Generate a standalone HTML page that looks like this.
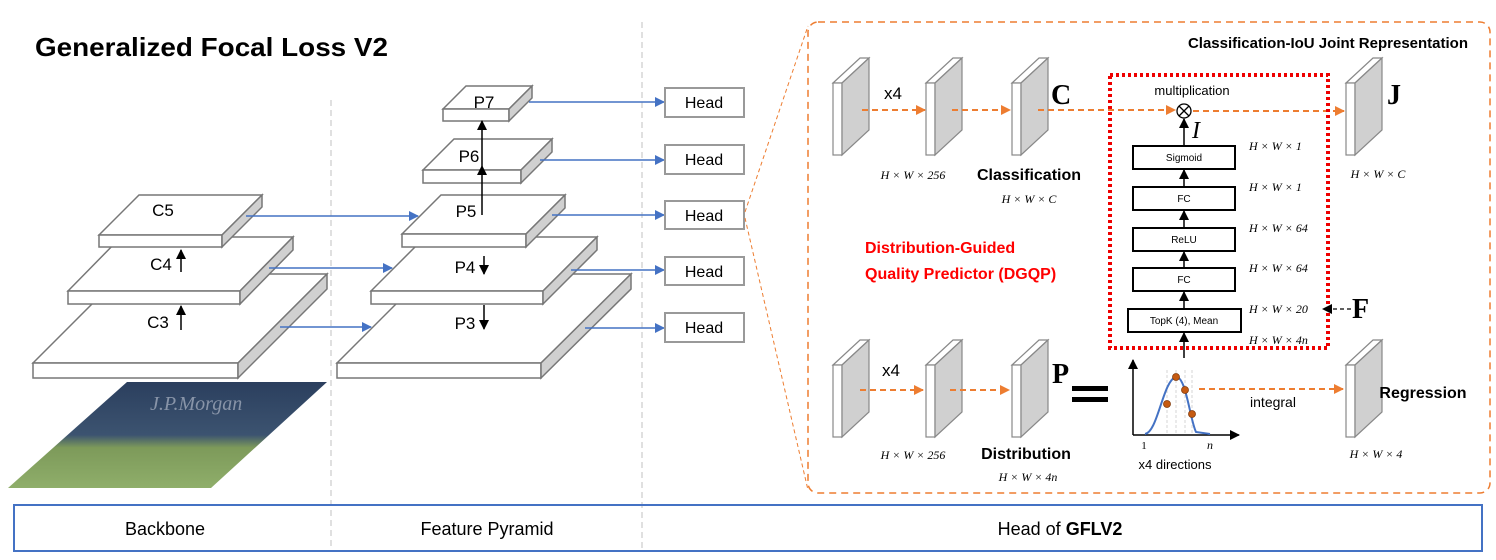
<!DOCTYPE html>
<html><head><meta charset="utf-8"><style>
html,body{margin:0;padding:0;background:#fff;}
svg{display:block;}
text{font-family:"Liberation Sans",sans-serif;}
text.ser{font-family:"Liberation Serif",serif;font-style:italic;font-size:12px;}
text.sb{font-family:"Liberation Serif",serif;font-weight:bold;font-size:28px;}
text.si{font-family:"Liberation Serif",serif;font-style:italic;}
</style></head><body>
<svg width="1496" height="560" viewBox="0 0 1496 560" xmlns="http://www.w3.org/2000/svg">
<defs>
<marker id="ab" markerWidth="10" markerHeight="10" refX="9" refY="5" orient="auto" markerUnits="userSpaceOnUse"><path d="M0,0 L10,5 L0,10 z" fill="#4472c4"/></marker>
<marker id="ao" markerWidth="10" markerHeight="10" refX="9" refY="5" orient="auto" markerUnits="userSpaceOnUse"><path d="M0,0 L10,5 L0,10 z" fill="#ed7d31"/></marker>
<marker id="ak" markerWidth="10" markerHeight="10" refX="9" refY="5" orient="auto" markerUnits="userSpaceOnUse"><path d="M0,0 L10,5 L0,10 z" fill="#000"/></marker>
<linearGradient id="img" x1="0" y1="0" x2="0" y2="1">
<stop offset="0" stop-color="#2b3f5e"/><stop offset="0.5" stop-color="#3c5370"/><stop offset="0.62" stop-color="#7d9a5a"/><stop offset="1" stop-color="#8fae6a"/></linearGradient>
</defs>

<line x1="331" y1="100" x2="331" y2="552" stroke="#ccc" stroke-width="1.2" stroke-dasharray="6,4"/>
<line x1="642" y1="22" x2="642" y2="552" stroke="#ccc" stroke-width="1.2" stroke-dasharray="6,4"/>

<text x="35" y="56" font-size="26" font-weight="bold" textLength="353" lengthAdjust="spacingAndGlyphs">Generalized Focal Loss V2</text>

<polygon points="127,382 327,382 211,488 8,488" fill="url(#img)"/>
<text x="150" y="410" class="si" font-size="20" fill="#8894a8">J.P.Morgan</text>

<g stroke="#777" stroke-width="1.5">
<polygon points="33,363 122,274 327,274 238,363" fill="#fff"/>
<rect x="33" y="363" width="205" height="15" fill="#fff"/>
<polygon points="238,363 327,274 327,289 238,378" fill="#d0d0d0"/>
<polygon points="68,291 121,237 293,237 240,291" fill="#fff"/>
<rect x="68" y="291" width="172" height="13" fill="#fff"/>
<polygon points="240,291 293,237 293,250 240,304" fill="#d0d0d0"/>
<polygon points="99,235 139,195 262,195 222,235" fill="#fff"/>
<rect x="99" y="235" width="123" height="12" fill="#fff"/>
<polygon points="222,235 262,195 262,207 222,247" fill="#d0d0d0"/>
<polygon points="337,363 426,274 631,274 541,363" fill="#fff"/>
<rect x="337" y="363" width="204" height="15" fill="#fff"/>
<polygon points="541,363 631,274 631,289 541,378" fill="#d0d0d0"/>
<polygon points="371,291 425,237 597,237 543,291" fill="#fff"/>
<rect x="371" y="291" width="172" height="13" fill="#fff"/>
<polygon points="543,291 597,237 597,250 543,304" fill="#d0d0d0"/>
<polygon points="402,234 441,195 565,195 526,234" fill="#fff"/>
<rect x="402" y="234" width="124" height="13" fill="#fff"/>
<polygon points="526,234 565,195 565,208 526,247" fill="#d0d0d0"/>
<polygon points="423,170 454,139 552,139 521,170" fill="#fff"/>
<rect x="423" y="170" width="98" height="13" fill="#fff"/>
<polygon points="521,170 552,139 552,152 521,183" fill="#d0d0d0"/>
<polygon points="443,109 466,86 532,86 509,109" fill="#fff"/>
<rect x="443" y="109" width="66" height="12" fill="#fff"/>
<polygon points="509,109 532,86 532,98 509,121" fill="#d0d0d0"/>
</g>

<g font-size="17" text-anchor="middle">
<text x="163" y="216">C5</text><text x="161" y="270">C4</text><text x="158" y="328">C3</text>
<text x="484" y="108">P7</text><text x="469" y="162">P6</text><text x="466" y="217">P5</text>
<text x="465" y="273">P4</text><text x="465" y="329">P3</text>
</g>
<g stroke="#000" stroke-width="1.5" marker-end="url(#ak)">
<line x1="181" y1="272" x2="181" y2="250"/>
<line x1="181" y1="330" x2="181" y2="306"/>
<line x1="482" y1="166" x2="482" y2="121"/>
<line x1="482" y1="215" x2="482" y2="166"/>
<line x1="484" y1="256" x2="484" y2="274"/>
<line x1="484" y1="305" x2="484" y2="329"/>
</g>

<g stroke="#4472c4" stroke-width="1.5" marker-end="url(#ab)">
<line x1="246" y1="216" x2="418" y2="216"/>
<line x1="269" y1="268" x2="392" y2="268"/>
<line x1="280" y1="327" x2="371" y2="327"/>
<line x1="529" y1="102" x2="664" y2="102"/>
<line x1="540" y1="160" x2="664" y2="160"/>
<line x1="552" y1="215" x2="664" y2="215"/>
<line x1="571" y1="270" x2="664" y2="270"/>
<line x1="585" y1="328" x2="664" y2="328"/>
</g>
<g fill="#fff" stroke="#999" stroke-width="2">
<rect x="665" y="88" width="79" height="29"/>
<rect x="665" y="145" width="79" height="29"/>
<rect x="665" y="201" width="79" height="28"/>
<rect x="665" y="257" width="79" height="28"/>
<rect x="665" y="313" width="79" height="29"/>
</g>
<g font-size="16" text-anchor="middle">
<text x="704" y="108">Head</text><text x="704" y="165">Head</text><text x="704" y="221">Head</text>
<text x="704" y="277">Head</text><text x="704" y="333">Head</text>
</g>

<line x1="745" y1="212" x2="808" y2="26" stroke="#ed7d31" stroke-width="1" stroke-dasharray="4,3"/>
<line x1="745" y1="218" x2="808" y2="490" stroke="#ed7d31" stroke-width="1" stroke-dasharray="4,3"/>
<rect x="808" y="22" width="682" height="471" rx="10" fill="none" stroke="#ed7d31" stroke-width="1.5" stroke-dasharray="7,5"/>
<text x="1468" y="48" font-size="15" font-weight="bold" text-anchor="end">Classification-IoU Joint Representation</text>

<g stroke="#888" stroke-width="1.2">
<g id="fm">
<polygon points="833,83 860,58 869,58 842,83" fill="#fff"/>
<rect x="833" y="83" width="9" height="72" fill="#fff"/>
<polygon points="842,83 869,58 869,130 842,155" fill="#d0d0d0"/>
</g>
<use href="#fm" x="93"/><use href="#fm" x="179"/><use href="#fm" x="513"/>
<use href="#fm" y="282"/><use href="#fm" x="93" y="282"/><use href="#fm" x="179" y="282"/><use href="#fm" x="513" y="282"/>
</g>

<g stroke="#ed7d31" stroke-width="2" stroke-dasharray="6,4" marker-end="url(#ao)" fill="none">
<line x1="862" y1="110" x2="925" y2="110"/>
<line x1="952" y1="110" x2="1010" y2="110"/>
<line x1="1038" y1="110" x2="1175" y2="110"/>
<line x1="1193" y1="111" x2="1344" y2="111"/>
<line x1="860" y1="390" x2="923" y2="390"/>
<line x1="950" y1="390" x2="1009" y2="390"/>
<line x1="1199" y1="389" x2="1343" y2="389"/>
</g>

<text x="893" y="99" font-size="17" text-anchor="middle">x4</text>
<text x="891" y="376" font-size="17" text-anchor="middle">x4</text>
<text class="sb" x="1051" y="104">C</text><text class="sb" x="1387" y="104">J</text><text class="sb" x="1052" y="383">P</text><text class="sb" x="1352" y="318">F</text>
<g text-anchor="middle">
<text class="ser" x="913" y="179">H × W × 256</text>
<text class="ser" x="1029" y="203">H × W × C</text>
<text class="ser" x="1378" y="178">H × W × C</text>
<text class="ser" x="913" y="459">H × W × 256</text>
<text class="ser" x="1028" y="481">H × W × 4n</text>
<text class="ser" x="1376" y="458">H × W × 4</text>
</g>
<g font-size="16" font-weight="bold" text-anchor="middle">
<text x="1029" y="180">Classification</text>
<text x="1026" y="459">Distribution</text>
<text x="1423" y="398">Regression</text>
</g>
<text x="865" y="253" font-size="16" font-weight="bold" fill="#ff0000">Distribution-Guided</text>
<text x="865" y="279" font-size="16" font-weight="bold" fill="#ff0000">Quality Predictor (DGQP)</text>

<rect x="1110" y="75" width="218" height="273" fill="none" stroke="#e00" stroke-width="4" stroke-dasharray="3,3"/>
<text x="1192" y="95" font-size="13" text-anchor="middle">multiplication</text>
<circle cx="1184" cy="111" r="7" fill="#fff" stroke="#000" stroke-width="1.3"/>
<path d="M1179,106 L1189,116 M1189,106 L1179,116" stroke="#000" stroke-width="1.3"/>
<text class="si" x="1192" y="138" font-size="24">I</text>
<g fill="#fff" stroke="#000" stroke-width="2">
<rect x="1133" y="146" width="102" height="23"/>
<rect x="1133" y="187" width="102" height="23"/>
<rect x="1133" y="228" width="102" height="23"/>
<rect x="1133" y="268" width="102" height="23"/>
<rect x="1128" y="309" width="113" height="23"/>
</g>
<g font-size="10" text-anchor="middle">
<text x="1184" y="161">Sigmoid</text><text x="1184" y="202">FC</text><text x="1184" y="243">ReLU</text>
<text x="1184" y="283">FC</text><text x="1184" y="324">TopK (4), Mean</text>
</g>
<g stroke="#000" stroke-width="1.5" marker-end="url(#ak)">
<line x1="1184" y1="146" x2="1184" y2="119"/>
<line x1="1184" y1="187" x2="1184" y2="170"/>
<line x1="1184" y1="228" x2="1184" y2="211"/>
<line x1="1184" y1="268" x2="1184" y2="252"/>
<line x1="1184" y1="309" x2="1184" y2="292"/>
<line x1="1184" y1="358" x2="1184" y2="333"/>
</g>
<line x1="1351" y1="309" x2="1323" y2="309" stroke="#000" stroke-width="1.3" stroke-dasharray="4,3" marker-end="url(#ak)"/>
<text class="ser" x="1249" y="150">H × W × 1</text>
<text class="ser" x="1249" y="191">H × W × 1</text>
<text class="ser" x="1249" y="232">H × W × 64</text>
<text class="ser" x="1249" y="272">H × W × 64</text>
<text class="ser" x="1249" y="313">H × W × 20</text>
<text class="ser" x="1249" y="344">H × W × 4n</text>

<rect x="1072" y="386" width="36" height="5" fill="#000"/>
<rect x="1072" y="397" width="36" height="5" fill="#000"/>

<g stroke="#ccc" stroke-width="0.8" stroke-dasharray="3,2">
<line x1="1167" y1="370" x2="1167" y2="435"/><line x1="1176" y1="370" x2="1176" y2="435"/>
<line x1="1185" y1="370" x2="1185" y2="435"/><line x1="1192" y1="370" x2="1192" y2="435"/>
</g>
<line x1="1133" y1="435" x2="1133" y2="360" stroke="#000" stroke-width="1.5" marker-end="url(#ak)"/>
<line x1="1133" y1="435" x2="1239" y2="435" stroke="#000" stroke-width="1.5" marker-end="url(#ak)"/>
<path d="M1145,434 C1158,432 1163,380 1176,377 C1186,376 1190,420 1196,432 L1210,434" fill="none" stroke="#4472c4" stroke-width="2"/>
<g fill="#c55a11" stroke="#843c0c" stroke-width="0.8">
<circle cx="1167" cy="404" r="3.5"/><circle cx="1176" cy="377" r="3.5"/><circle cx="1185" cy="390" r="3.5"/><circle cx="1192" cy="414" r="3.5"/>
</g>
<text class="si" x="1144" y="449" font-size="11" text-anchor="middle" style="font-style:normal">1</text>
<text class="si" x="1210" y="449" font-size="12" text-anchor="middle">n</text>
<text x="1175" y="469" font-size="13" text-anchor="middle">x4 directions</text>
<text x="1273" y="407" font-size="14" text-anchor="middle">integral</text>

<rect x="14" y="505" width="1468" height="46" fill="none" stroke="#4472c4" stroke-width="2"/>
<g font-size="18" text-anchor="middle">
<text x="165" y="535">Backbone</text>
<text x="487" y="535">Feature Pyramid</text>
<text x="1060" y="535">Head of <tspan font-weight="bold">GFLV2</tspan></text>
</g>
</svg>
</body></html>
